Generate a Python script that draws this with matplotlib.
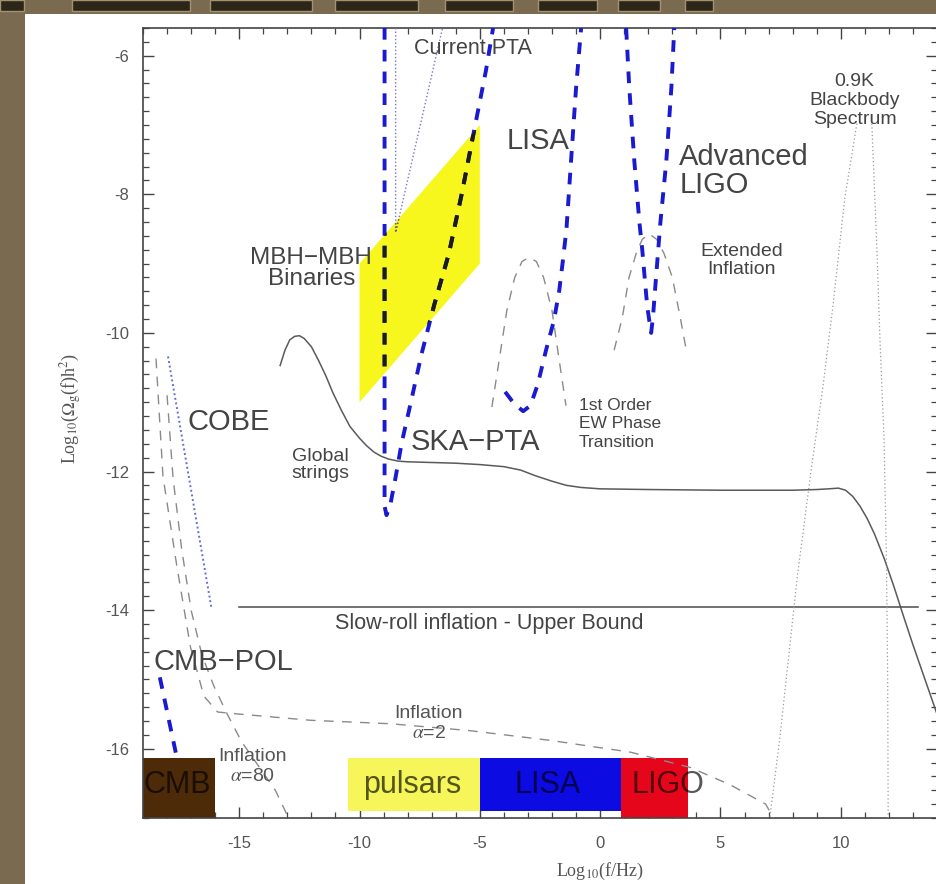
import matplotlib
matplotlib.use('Agg')
import matplotlib.pyplot as plt
from matplotlib.patches import Polygon, Rectangle
from matplotlib.ticker import MultipleLocator

plt.rcParams['font.family'] = ['Liberation Sans', 'DejaVu Sans']
plt.rcParams['mathtext.fontset'] = 'stix'
plt.rcParams['axes.unicode_minus'] = False

# --- values: x = log10(f/Hz), y = log10(Omega h^2) ---

# global strings (solid)
gs_x = [-13.3, -13.1, -12.9, -12.7, -12.5, -12.3, -12.0, -11.7, -11.4, -11.1, -10.75, -10.4,
        -10.0, -9.7, -9.4, -9.1, -8.8, -8.4, -8.0, -7.0, -6.0, -5.0, -4.0, -3.3, -2.7, -2.0,
        -1.4, -0.8, 0.0, 2.0, 5.0, 8.0, 9.0, 9.5, 9.9, 10.2, 10.5, 10.8, 11.1, 11.4, 11.8,
        12.2, 12.6, 13.0, 13.5, 14.0]
gs_y = [-10.47, -10.25, -10.1, -10.05, -10.04, -10.08, -10.2, -10.4, -10.62, -10.87, -11.12, -11.35,
        -11.52, -11.63, -11.72, -11.78, -11.82, -11.85, -11.86, -11.87, -11.88, -11.9, -11.93, -11.98, -12.06, -12.14,
        -12.2, -12.23, -12.25, -12.26, -12.27, -12.27, -12.26, -12.25, -12.24, -12.27, -12.36, -12.5, -12.68, -12.9, -13.25,
        -13.65, -14.08, -14.5, -15.0, -15.5]

# inflation alpha=2 (comes down on the left, then flat)
infl2_x = [-18.46, -18.17, -17.6, -17.03, -16.47, -15.9, -15.35, -12.03, -8.71, -5.4,
           -2.07, 1.26, 3.74, 5.4, 6.88, 7.2]
infl2_y = [-10.37, -12.07, -13.35, -14.53, -15.24, -15.47, -15.49, -15.59, -15.64, -15.74,
           -15.88, -16.05, -16.27, -16.52, -16.8, -17.0]

# inflation alpha=80
infl80_x = [-18.0, -17.75, -17.4, -17.0, -16.55, -16.05, -15.5, -14.9, -14.2, -13.5, -12.95]
infl80_y = [-10.9, -12.1, -13.1, -14.0, -14.65, -15.1, -15.5, -15.9, -16.25, -16.6, -17.0]

# 1st order EW phase transition
ew_x = [-4.5, -4.2, -3.88, -3.55, -3.25, -2.96, -2.65, -2.35, -2.0, -1.7, -1.42]
ew_y = [-11.07, -10.4, -9.68, -9.2, -8.97, -8.91, -8.97, -9.2, -9.68, -10.4, -11.05]

# extended inflation
ext_x = [0.58, 0.92, 1.2, 1.5, 1.75, 2.04, 2.35, 2.65, 3.0, 3.33, 3.58]
ext_y = [-10.25, -9.78, -9.2, -8.85, -8.65, -8.57, -8.65, -8.85, -9.2, -9.78, -10.25]

# sensitivity curves (blue dashed)
ska_x = [-8.96, -8.96, -8.88, -8.71, -8.5, -8.25, -7.88, -7.42, -6.9, -6.29, -5.75, -5.25, -4.75, -4.45]
ska_y = [-5.6, -12.5, -12.63, -12.46, -12.08, -11.59, -11.02, -10.3, -9.6, -8.86, -7.99, -7.1, -6.22, -5.6]
lisa_x = [-3.95, -3.58, -3.2, -2.9, -2.6, -2.25, -1.92, -1.7, -1.55, -1.4, -1.21, -1.0, -0.79]
lisa_y = [-10.85, -11.02, -11.13, -11.05, -10.75, -10.25, -9.82, -9.39, -8.96, -8.5, -7.52, -6.46, -5.6]
aligo_x = [1.08, 1.21, 1.42, 1.63, 1.75, 1.85, 1.96, 2.12, 2.2, 2.3, 2.4, 2.5, 2.75, 2.96, 3.08]
aligo_y = [-5.6, -6.46, -7.52, -8.4, -8.8, -9.2, -9.63, -10.0, -9.75, -9.3, -8.86, -8.42, -7.52, -6.46, -5.6]
cmbpol_x = [-18.3, -17.55]
cmbpol_y = [-14.97, -16.2]

# dotted limits
pta_x = [-8.5, -8.5, -6.55]
pta_y = [-5.6, -8.55, -5.6]
cobe_x = [-17.96, -16.16]
cobe_y = [-10.34, -13.96]
bb_left_x = [10.67, 10.17, 9.67, 9.25, 8.8, 8.2, 7.46, 7.05]
bb_left_y = [-6.98, -8.05, -9.63, -10.8, -11.9, -13.5, -15.87, -17.0]
bb_right_x = [11.29, 11.5, 11.63, 11.8, 11.9, 11.95, 11.97]
bb_right_y = [-6.98, -8.77, -10.1, -11.55, -13.3, -15.0, -17.0]

# slow-roll upper bound
sr_x = [-15.0, 13.2]
sr_y = [-13.95, -13.95]

# MBH-MBH binaries region
mbh_x = [-10.0, -10.0, -5.0, -5.0]
mbh_y = [-11.0, -9.0, -7.0, -9.0]

# frequency bands along the bottom
band_names = ['CMB', 'pulsars', 'LISA', 'LIGO']
band_lo = [-19.0, -10.5, -5.0, 0.85]
band_hi = [-16.0, -5.0, 0.85, 3.65]
band_bottom = [-17.0, -16.9, -16.9, -17.0]
band_colors = ['#4d2a08', '#f6f65a', '#0b0be2', '#e6061c']
band_text_x = [-17.58, -7.81, -2.19, 2.83]

fig = plt.figure(figsize=(9.36, 8.84), dpi=100)
fig.patch.set_facecolor('#7a6a50')
# white slide area and toolbar strip
fig.patches.append(Rectangle((25 / 936, 0), 1, 870 / 884, transform=fig.transFigure,
                             facecolor='white', edgecolor='none', zorder=-5))
for x0, x1 in [(0, 24), (72, 190), (210, 312), (335, 418), (445, 513), (538, 597), (618, 660), (685, 713)]:
    fig.patches.append(Rectangle((x0 / 936, 873 / 884), (x1 - x0) / 936, 11 / 884,
                                 transform=fig.transFigure, facecolor='#2c2619',
                                 edgecolor='#a39272', lw=1.0, zorder=-5))

ax = fig.add_axes([143 / 936, 66 / 884, 794 / 936, 790 / 884])
ax.set_xlim(-19, 14)
ax.set_ylim(-17, -5.6)

dark = '#444444'
blue = '#1a1ad0'
gray = '#8a8a8a'

# yellow region
mbh = Polygon(list(zip(mbh_x, mbh_y)), closed=True, facecolor='#f7f71e', edgecolor='none', zorder=2)
ax.add_patch(mbh)

# bands
for lo, hi, bot, c in zip(band_lo, band_hi, band_bottom, band_colors):
    ax.add_patch(Rectangle((lo, bot), hi - lo, -16.13 - bot, facecolor=c, edgecolor='none', zorder=2))
for name, tx in zip(band_names, band_text_x):
    ax.text(tx, -16.52, name, fontsize=22, color='black', alpha=0.66, ha='center', va='center', zorder=6)

# curves
ax.plot(gs_x, gs_y, color='#5a5a5a', lw=1.1, zorder=3)
ax.plot(sr_x, sr_y, color='#4a4a4a', lw=1.1, zorder=3)
for x, y in [(infl2_x, infl2_y), (infl80_x, infl80_y), (ew_x, ew_y), (ext_x, ext_y)]:
    ax.plot(x, y, color=gray, lw=1.0, ls=(0, (7, 6)), zorder=3)

dash = (0, (3, 2.6))
for x, y in [(ska_x, ska_y), (lisa_x, lisa_y), (aligo_x, aligo_y), (cmbpol_x, cmbpol_y)]:
    ax.plot(x, y, color=blue, lw=2.8, ls=dash, zorder=4)
# over the yellow patch the dashes look almost black
over, = ax.plot(ska_x, ska_y, color='#1a1a22', lw=2.8, ls=dash, zorder=4.5)
over.set_clip_path(mbh)

ax.plot(pta_x, pta_y, color='#7474d2', lw=1.0, ls=(0, (1, 1.6)), zorder=3)
over2, = ax.plot(pta_x, pta_y, color='#666666', lw=1.0, ls=(0, (1, 1.6)), zorder=3.5)
over2.set_clip_path(mbh)
ax.plot(cobe_x, cobe_y, color='#6a6ad8', lw=1.4, ls=(0, (1, 1.4)), zorder=3)
ax.plot(bb_left_x, bb_left_y, color='#9a9a9a', lw=0.9, ls=(0, (1, 2)), zorder=3)
ax.plot(bb_right_x, bb_right_y, color='#9a9a9a', lw=0.9, ls=(0, (1, 2)), zorder=3)

# labels
big = dict(fontsize=21, color=dark, zorder=6)
ax.text(-17.13, -11.29, 'COBE', ha='left', va='center', **big)
ax.text(-7.88, -11.58, 'SKA\u2212PTA', ha='left', va='center', **big)
ax.text(-2.6, -7.23, 'LISA', ha='center', va='center', **big)
ax.text(3.29, -7.67, 'Advanced\nLIGO', ha='left', va='center', linespacing=1.0, **big)
ax.text(-18.58, -14.75, 'CMB\u2212POL', ha='left', va='center', **big)

ax.text(-12.0, -9.07, 'MBH\u2212MBH\nBinaries', ha='center', va='center', fontsize=17.5,
        color=dark, linespacing=0.9, zorder=6)
ax.text(-5.29, -5.89, 'Current PTA', ha='center', va='center', fontsize=15.5, color=dark, zorder=6)
ax.text(-11.63, -11.9, 'Global\nstrings', ha='center', va='center', fontsize=14,
        color=dark, linespacing=1.0, zorder=6)
ax.text(-0.875, -11.31, '1st Order\nEW Phase\nTransition', ha='left', va='center', fontsize=12.5,
        color=dark, linespacing=1.3, zorder=6)
ax.text(5.88, -8.96, 'Extended\nInflation', ha='center', va='center', fontsize=14,
        color=dark, linespacing=1.1, zorder=6)
ax.text(10.58, -6.64, '0.9K\nBlackbody\nSpectrum', ha='center', va='center', fontsize=14,
        color=dark, linespacing=1.15, zorder=6)
ax.text(-4.63, -14.2, 'Slow-roll inflation - Upper Bound', ha='center', va='center',
        fontsize=15.5, color=dark, zorder=6)
ax.text(-7.13, -15.64, 'Inflation\n$\\alpha$=2', ha='center', va='center', fontsize=14,
        color='#555555', linespacing=1.2, zorder=6)
ax.text(-14.46, -16.26, 'Inflation\n$\\alpha$=80', ha='center', va='center', fontsize=14,
        color='#555555', linespacing=1.2, zorder=6)

# axes styling
ax.xaxis.set_major_locator(MultipleLocator(5))
ax.xaxis.set_minor_locator(MultipleLocator(1))
ax.yaxis.set_major_locator(MultipleLocator(2))
ax.yaxis.set_minor_locator(MultipleLocator(0.2))
ax.tick_params(which='both', direction='in', top=True, right=True, colors='#444444',
               labelsize=12, labelcolor='#555555')
ax.tick_params(which='major', length=8, width=1.0)
ax.tick_params(which='minor', length=4.5, width=0.9)
ax.tick_params(axis='x', pad=13)
ax.tick_params(axis='y', pad=10)
for s in ax.spines.values():
    s.set_color('#444444')
    s.set_linewidth(1.2)

ax.set_xlabel('Log$_{10}$(f/Hz)', fontsize=13, family='Liberation Serif', color='#555555')
ax.set_ylabel('Log$_{10}$($\\Omega_{\\rm g}$(f)h$^2$)', fontsize=13, family='Liberation Serif',
              color='#555555')
ax.xaxis.set_label_coords(0.576, -0.054)
ax.yaxis.set_label_coords(-0.074, 0.519)

fig.savefig('out.png', dpi=100, facecolor=fig.get_facecolor())
